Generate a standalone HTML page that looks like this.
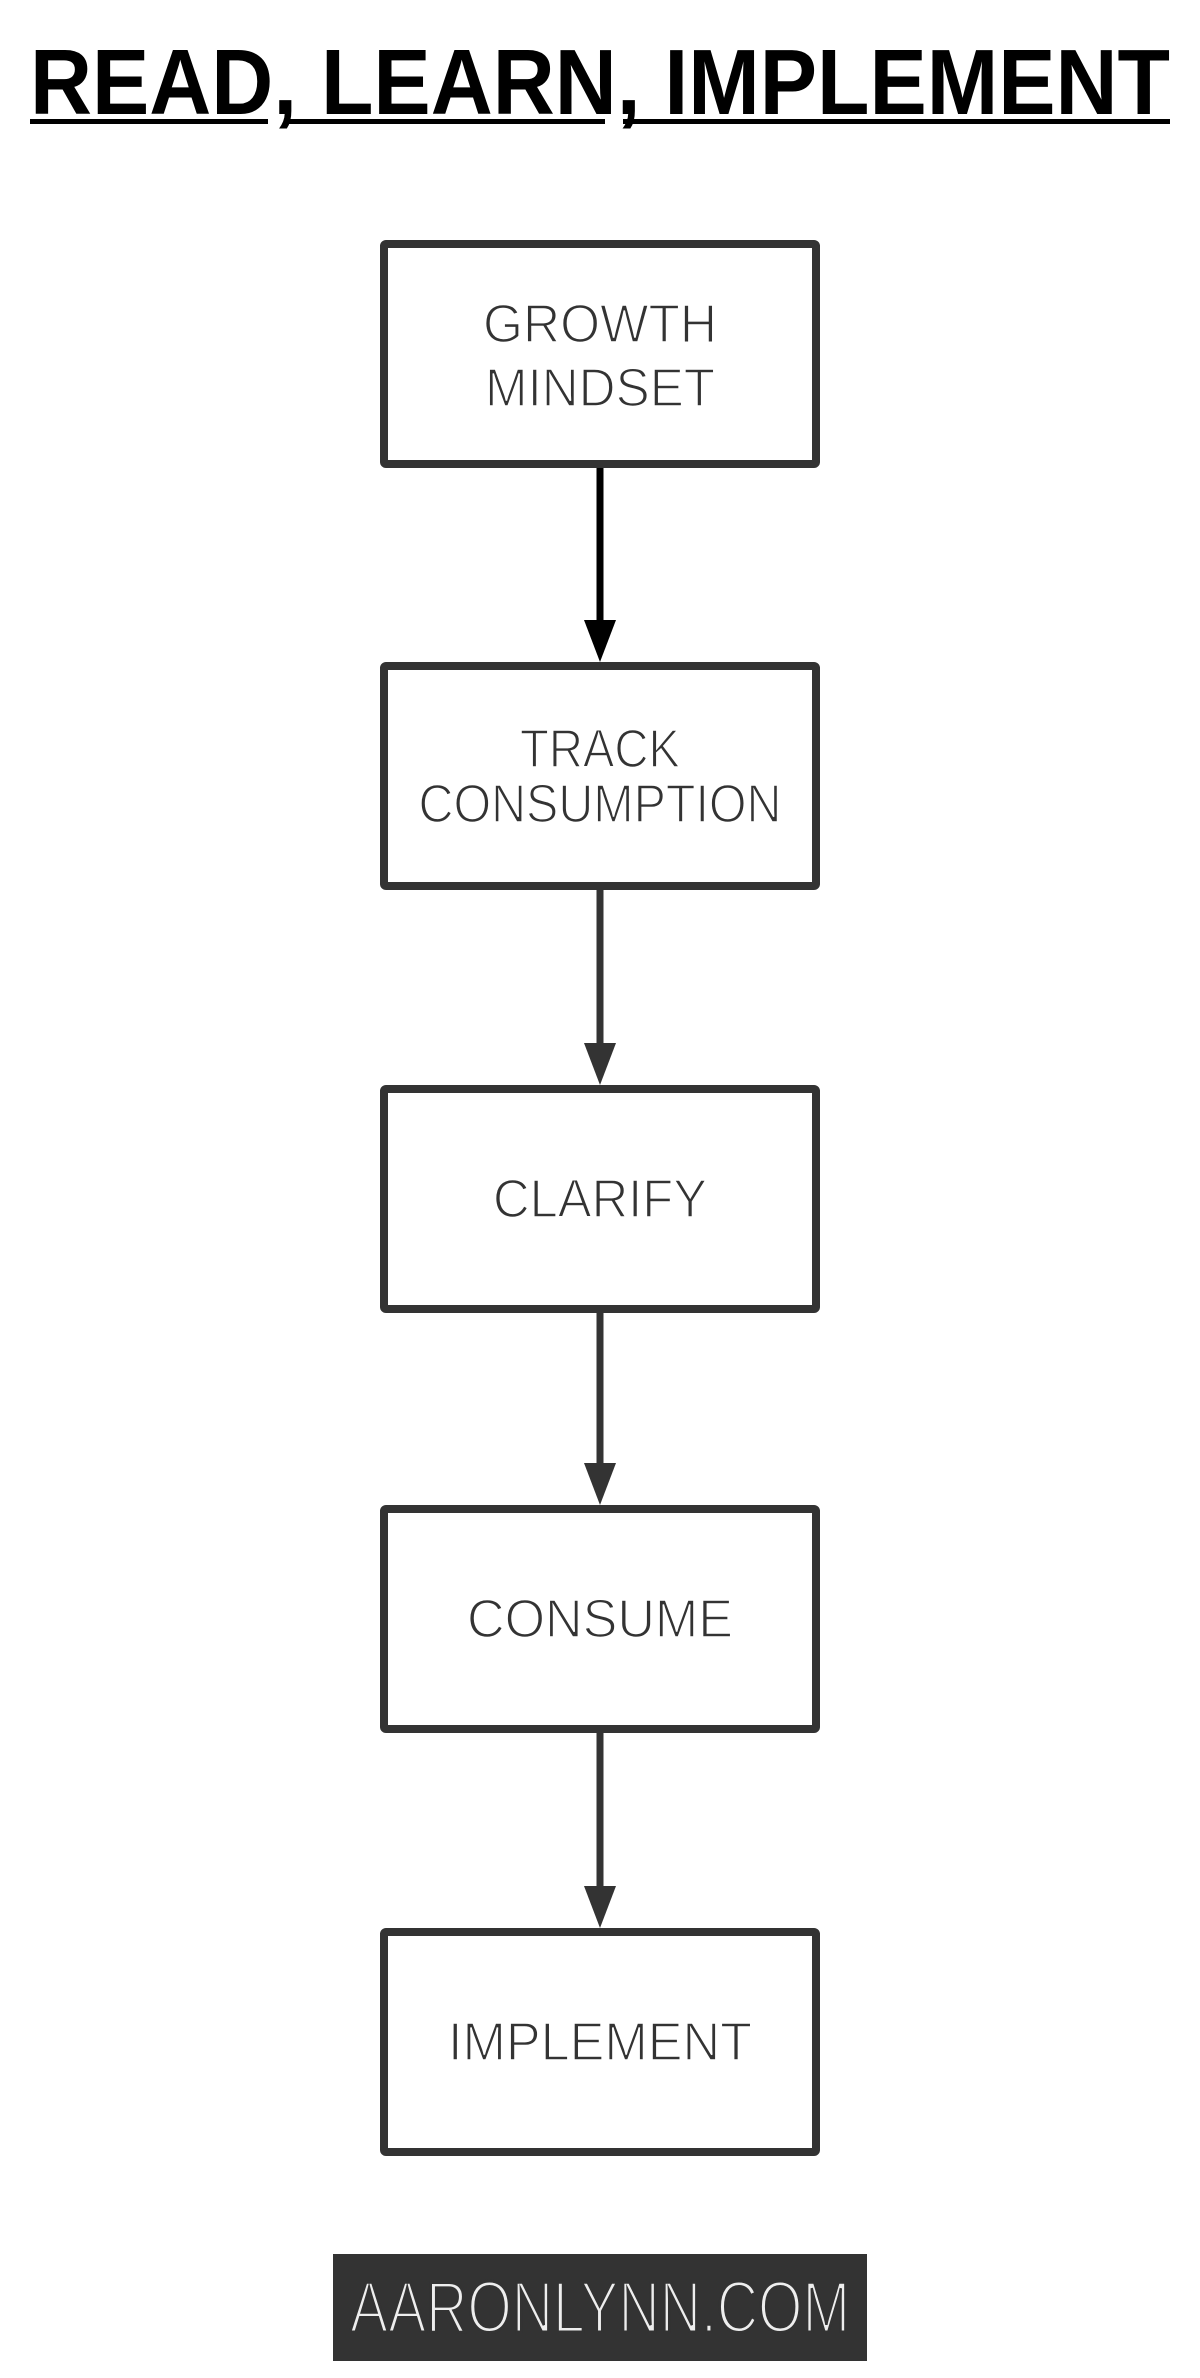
<!DOCTYPE html>
<html><head><meta charset="utf-8"><style>
html,body{margin:0;padding:0;background:#fff;}
svg{display:block;}
</style></head><body>
<svg width="1200" height="2378" viewBox="0 0 1200 2378" xmlns="http://www.w3.org/2000/svg">
<rect width="1200" height="2378" fill="#fff"/>
<text x="30" y="114" font-family="Liberation Sans, sans-serif" font-weight="bold" font-size="93" textLength="1140" lengthAdjust="spacingAndGlyphs" fill="#000">READ, LEARN, IMPLEMENT</text>
<rect x="30" y="119" width="238" height="5" fill="#000"/>
<rect x="285" y="119" width="320" height="5" fill="#000"/>
<rect x="623" y="119" width="547" height="5" fill="#000"/>

<g fill="#fff" stroke="#333" stroke-width="8" stroke-linejoin="round">
<rect x="384" y="244" width="432" height="220" rx="2"/>
<rect x="384" y="666" width="432" height="220" rx="2"/>
<rect x="384" y="1089" width="432" height="220" rx="2"/>
<rect x="384" y="1509" width="432" height="220" rx="2"/>
<rect x="384" y="1932" width="432" height="220" rx="2"/>
</g>

<line x1="600" y1="468" x2="600" y2="625" stroke="#000" stroke-width="7"/>
<polygon points="584,620 616,620 600,662" fill="#000"/>
<line x1="600" y1="890" x2="600" y2="1048" stroke="#333" stroke-width="7"/>
<polygon points="584,1043 616,1043 600,1085" fill="#333"/>
<line x1="600" y1="1313" x2="600" y2="1468" stroke="#333" stroke-width="7"/>
<polygon points="584,1463 616,1463 600,1505" fill="#333"/>
<line x1="600" y1="1733" x2="600" y2="1891" stroke="#333" stroke-width="7"/>
<polygon points="584,1886 616,1886 600,1928" fill="#333"/>

<g font-family="Liberation Sans, sans-serif" font-size="54" fill="#333" stroke="#fff" stroke-width="1.6" paint-order="fill" text-anchor="middle">
<text x="600" y="342" textLength="234" lengthAdjust="spacingAndGlyphs">GROWTH</text>
<text x="600" y="406" textLength="230" lengthAdjust="spacingAndGlyphs">MINDSET</text>
<text x="600" y="767" textLength="160" lengthAdjust="spacingAndGlyphs">TRACK</text>
<text x="600" y="822" textLength="363" lengthAdjust="spacingAndGlyphs">CONSUMPTION</text>
<text x="600" y="1217" textLength="214" lengthAdjust="spacingAndGlyphs">CLARIFY</text>
<text x="600" y="1637" textLength="266" lengthAdjust="spacingAndGlyphs">CONSUME</text>
<text x="600" y="2060" textLength="304" lengthAdjust="spacingAndGlyphs">IMPLEMENT</text>
</g>

<rect x="333" y="2254" width="534" height="107" fill="#333"/>
<text x="600" y="2332" font-family="Liberation Sans, sans-serif" font-size="72" fill="#eee" stroke="#333" stroke-width="3" paint-order="fill" text-anchor="middle" textLength="500" lengthAdjust="spacingAndGlyphs">AARONLYNN.COM</text>
</svg>
</body></html>
